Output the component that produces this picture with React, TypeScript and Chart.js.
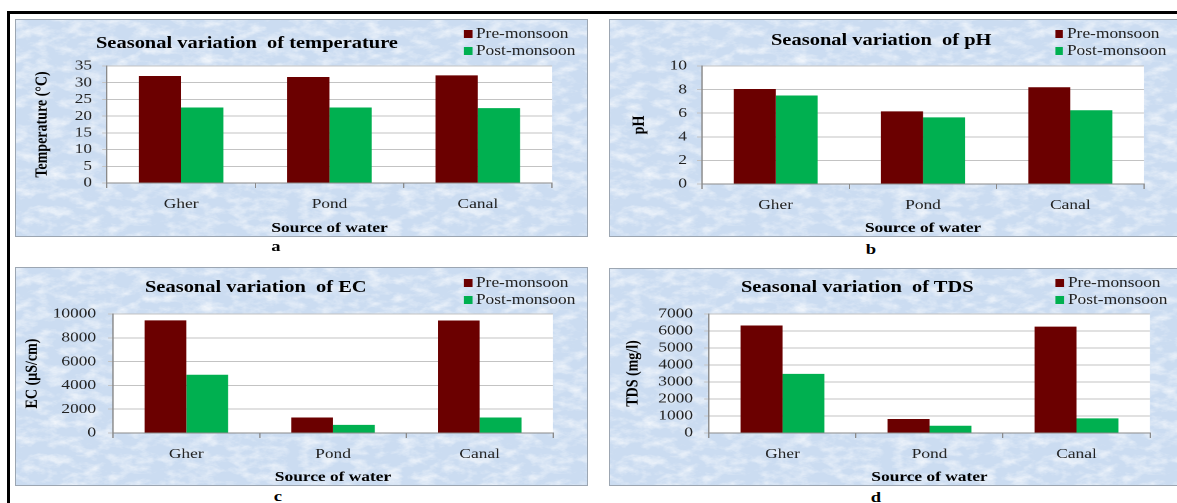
import React, { useEffect, useRef } from "react";
import { Chart, registerables } from "chart.js";

Chart.register(...registerables);

// ---- data ----
const sources = ["Gher", "Pond", "Canal"];
const seasonLabels = ["Pre-monsoon", "Post-monsoon"];
const seasonColors = ["#6b0000", "#00b050"];

const temperaturePre = [32.0, 31.7, 32.2];
const temperaturePost = [22.6, 22.6, 22.4];
const temperatureTicks = [0, 5, 10, 15, 20, 25, 30, 35];

const phPre = [8.05, 6.15, 8.2];
const phPost = [7.5, 5.65, 6.25];
const phTicks = [0, 2, 4, 6, 8, 10];

const ecPre = [9460, 1300, 9450];
const ecPost = [4900, 680, 1300];
const ecTicks = [0, 2000, 4000, 6000, 8000, 10000];

const tdsPre = [6320, 820, 6260];
const tdsPost = [3480, 430, 860];
const tdsTicks = [0, 1000, 2000, 3000, 4000, 5000, 6000, 7000];

// ---- look ----
const SX = 1.24; // horizontal stretch of each panel
const SERIF = "'Liberation Serif', 'Times New Roman', Times, serif";
const TEXT = "#222222";
const GRID = "#c3c3c3";
const AXIS = "#8a8a8a";

const textureSvg =
  "<svg xmlns='http://www.w3.org/2000/svg' width='420' height='260'>" +
  "<filter id='f' x='0' y='0' width='100%' height='100%'>" +
  "<feTurbulence type='fractalNoise' baseFrequency='0.06 0.11' numOctaves='4' seed='11' stitchTiles='stitch'/>" +
  "<feColorMatrix values='0 0 0 0 1  0 0 0 0 1  0 0 0 0 1  1.4 0 0 0 -0.58'/>" +
  "</filter>" +
  "<rect width='420' height='260' fill='#cbdcf1'/>" +
  "<rect width='420' height='260' filter='url(#f)'/>" +
  "</svg>";
const TEXTURE = `url("data:image/svg+xml,${encodeURIComponent(textureSvg)}")`;

type Box = { left: number; top: number; right: number; bottom: number };

type PanelSpec = {
  id: string;
  title: string;
  yTitle: string;
  pre: number[];
  post: number[];
  ticks: number[];
  box: Box;
  plot: Box;
  yTitleX: number;
  tickRight: number;
  titleX: number;
  titleY: number;
  legendX: number;
  legendY: number;
  letterX: number;
  letterY: number;
};

const panels: PanelSpec[] = [
  {
    id: "a",
    title: "Seasonal variation  of temperature",
    yTitle: "Temperature (°C)",
    pre: temperaturePre,
    post: temperaturePost,
    ticks: temperatureTicks,
    box: { left: 15, top: 19, right: 588, bottom: 237 },
    plot: { left: 107, top: 66, right: 552, bottom: 183 },
    yTitleX: 42,
    tickRight: 92,
    titleX: 96,
    titleY: 43,
    legendX: 464,
    legendY: 34,
    letterX: 276,
    letterY: 246,
  },
  {
    id: "b",
    title: "Seasonal variation  of pH",
    yTitle: "pH",
    pre: phPre,
    post: phPost,
    ticks: phTicks,
    box: { left: 609, top: 19, right: 1182, bottom: 237 },
    plot: { left: 702, top: 66, right: 1144, bottom: 184 },
    yTitleX: 639,
    tickRight: 687,
    titleX: 771,
    titleY: 40,
    legendX: 1055,
    legendY: 34,
    letterX: 871,
    letterY: 249,
  },
  {
    id: "c",
    title: "Seasonal variation  of EC",
    yTitle: "EC (µS/cm)",
    pre: ecPre,
    post: ecPost,
    ticks: ecTicks,
    box: { left: 15, top: 267, right: 588, bottom: 486 },
    plot: { left: 113, top: 314, right: 553, bottom: 433 },
    yTitleX: 32,
    tickRight: 96,
    titleX: 145,
    titleY: 287,
    legendX: 464,
    legendY: 283,
    letterX: 278,
    letterY: 496,
  },
  {
    id: "d",
    title: "Seasonal variation  of TDS",
    yTitle: "TDS (mg/l)",
    pre: tdsPre,
    post: tdsPost,
    ticks: tdsTicks,
    box: { left: 609, top: 268, right: 1182, bottom: 486 },
    plot: { left: 709, top: 314, right: 1150, bottom: 433 },
    yTitleX: 633,
    tickRight: 693,
    titleX: 741,
    titleY: 287,
    legendX: 1056,
    legendY: 283,
    letterX: 876,
    letterY: 497,
  },
];

// white fill behind the plotting area
const plotBackground = {
  id: "plotBackground",
  beforeDraw(chart: any) {
    const { ctx, chartArea } = chart;
    if (!chartArea) return;
    ctx.save();
    ctx.fillStyle = "#ffffff";
    ctx.fillRect(chartArea.left, chartArea.top, chartArea.right - chartArea.left, chartArea.bottom - chartArea.top);
    ctx.restore();
  },
};

function Panel({ spec }: { spec: PanelSpec }) {
  const canvasRef = useRef<HTMLCanvasElement | null>(null);
  const { box, plot } = spec;
  const boxW = box.right - box.left;
  const boxH = box.bottom - box.top;
  const innerW = Math.round(boxW / SX);
  const ux = (x: number) => (x - box.left) / SX; // page x -> unstretched x

  useEffect(() => {
    const canvas = canvasRef.current;
    if (!canvas) return;
    const yAxisW = ux(plot.left);
    const padRight = innerW - ux(plot.right);
    const padTop = plot.top - box.top;
    const xAxisH = box.bottom - plot.bottom;
    const tickLen = 4;
    const tickPad = ux(plot.left) - ux(spec.tickRight) - tickLen;
    const yTitlePad = ux(spec.yTitleX) - 8.4;
    const tickFont = { family: SERIF, size: 14 };
    const titleFont = { family: SERIF, size: 14, weight: "bold" as const };
    const ticks = spec.ticks;

    const chart = new Chart(canvas, {
      type: "bar",
      data: {
        labels: sources,
        datasets: [
          {
            label: seasonLabels[0],
            data: spec.pre,
            backgroundColor: seasonColors[0],
            borderWidth: 0,
            categoryPercentage: 0.57,
            barPercentage: 1,
          },
          {
            label: seasonLabels[1],
            data: spec.post,
            backgroundColor: seasonColors[1],
            borderWidth: 0,
            categoryPercentage: 0.57,
            barPercentage: 1,
          },
        ],
      },
      options: {
        animation: false,
        responsive: true,
        maintainAspectRatio: false,
        devicePixelRatio: 2,
        layout: { padding: { left: 0, right: padRight, top: padTop, bottom: 0 } },
        plugins: {
          legend: { display: false },
          title: { display: false },
          tooltip: { enabled: false },
        },
        scales: {
          x: {
            offset: true,
            grid: { display: true, drawOnChartArea: false, offset: true, tickLength: 5, color: AXIS },
            border: { display: true, color: AXIS },
            ticks: { font: tickFont, color: TEXT, padding: 8, maxRotation: 0, autoSkip: false },
            title: {
              display: true,
              text: "Source of water",
              font: titleFont,
              color: "#000",
              padding: { top: 0, bottom: 0 },
            },
            afterFit: (s: any) => {
              s.height = xAxisH;
            },
          },
          y: {
            min: ticks[0],
            max: ticks[ticks.length - 1],
            afterBuildTicks: (s: any) => {
              s.ticks = ticks.map((v) => ({ value: v }));
            },
            grid: { color: GRID, tickLength: tickLen },
            border: { display: true, color: AXIS },
            ticks: {
              font: tickFont,
              color: TEXT,
              padding: tickPad,
              autoSkip: false,
              callback: (v: any) => String(v),
            },
            title: {
              display: true,
              text: spec.yTitle,
              font: titleFont,
              color: "#000",
              padding: { top: yTitlePad, bottom: 0 },
            },
            afterFit: (s: any) => {
              s.width = yAxisW;
            },
          },
        },
      },
      plugins: [plotBackground],
    });
    return () => chart.destroy();
  }, []);

  const rowGap = 16.5;
  return (
    <>
      <div
        style={{
          position: "absolute",
          left: box.left,
          top: box.top,
          width: boxW,
          height: boxH,
          backgroundImage: TEXTURE,
          backgroundColor: "#d2e2f4",
          boxShadow: "inset 0 0 0 1px #9ca6b2",
          overflow: "hidden",
        }}
      >
        <div
          style={{
            position: "absolute",
            left: 0,
            top: 0,
            width: innerW,
            height: boxH,
            transform: `scaleX(${SX})`,
            transformOrigin: "0 0",
          }}
        >
          <div style={{ position: "absolute", left: 0, top: 0, width: innerW, height: boxH }}>
            <canvas ref={canvasRef} />
          </div>
          <div
            style={{
              position: "absolute",
              left: ux(spec.titleX),
              top: spec.titleY - box.top - 10,
              lineHeight: "20px",
              fontFamily: SERIF,
              fontWeight: "bold",
              fontSize: 16.5,
              whiteSpace: "pre",
              color: "#000",
            }}
          >
            {spec.title}
          </div>
          {seasonLabels.map((label, i) => (
            <div
              key={label}
              style={{
                position: "absolute",
                left: ux(spec.legendX),
                top: spec.legendY + i * rowGap - box.top - 9,
                height: 18,
                display: "flex",
                alignItems: "center",
                whiteSpace: "nowrap",
                fontFamily: SERIF,
                fontSize: 14,
                color: TEXT,
              }}
            >
              <span
                style={{
                  display: "inline-block",
                  width: 8 / SX,
                  height: 8,
                  background: seasonColors[i],
                  marginRight: 4 / SX,
                }}
              />
              <span style={{ lineHeight: "18px" }}>{label}</span>
            </div>
          ))}
        </div>
      </div>
      <div
        style={{
          position: "absolute",
          left: spec.letterX - 20,
          top: spec.letterY - 10,
          width: 40,
          lineHeight: "20px",
          textAlign: "center",
          fontFamily: SERIF,
          fontWeight: "bold",
          fontSize: 15,
          color: "#000",
          transform: `scaleX(${SX})`,
        }}
      >
        {spec.id}
      </div>
    </>
  );
}

export default function App() {
  return (
    <div
      style={{
        position: "absolute",
        left: 0,
        top: 0,
        width: 1177,
        height: 503,
        overflow: "hidden",
        background: "#ffffff",
      }}
    >
      <div
        style={{
          position: "absolute",
          left: 7,
          top: 11,
          width: 1240,
          height: 600,
          borderLeft: "3px solid #000",
          borderTop: "3px solid #000",
          boxSizing: "border-box",
        }}
      />
      {panels.map((p) => (
        <Panel key={p.id} spec={p} />
      ))}
    </div>
  );
}
